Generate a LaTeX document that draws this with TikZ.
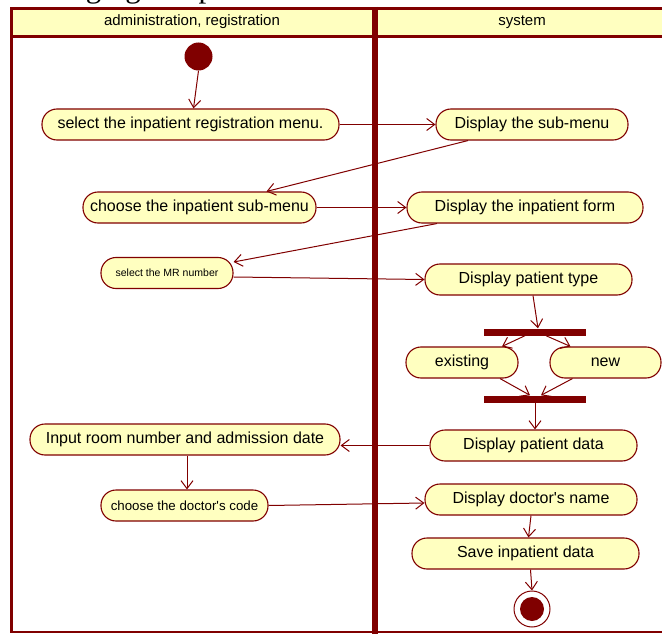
\documentclass[tikz,border=0pt]{standalone}
\usepackage{fontspec}
\setmainfont{Liberation Sans}[Ligatures=TeXOff]
\newfontfamily\titlefont{Liberation Serif}
\usetikzlibrary{arrows.meta}
\definecolor{umlred}{HTML}{800000}
\definecolor{umlfill}{HTML}{FFFFC0}
\begin{document}
\begin{tikzpicture}[x=1pt,y=-1pt,
        act/.style={draw=umlred,fill=umlfill,line width=1.1pt,rounded corners=15pt,minimum height=31pt,inner sep=0pt,font=\fontsize{16}{18}\selectfont},
        flow/.style={draw=umlred,line width=1pt,-{Straight Barb[length=8pt,width=12pt]}},
        bar/.style={fill=umlred,minimum width=102pt,minimum height=7pt,inner sep=0pt},
        lane/.style={draw=umlred,line width=3pt}]
        \useasboundingbox (0,0) rectangle (662,634);
        \node[anchor=base west,inner sep=0pt,font=\titlefont\fontsize{31}{31}\selectfont] (title) at (15,-2){Managing Hospitalization};
        % swimlanes
        \fill[umlfill] (10,8.5) rectangle (665,36.5);
        \draw[lane] (665,8.5) -- (11.5,8.5) -- (11.5,632);
        \draw[lane] (10,36.5) -- (665,36.5);
        \draw[umlred,line width=5.5pt] (375,7) -- (375,634);
        \draw[umlred,line width=1.5pt] (10,632) -- (665,632);
        \node[font=\fontsize{15}{17}\selectfont] (admin) at (192,22){administration, registration};
        \node[font=\fontsize{15}{17}\selectfont] (system) at (522,22){system};
        % activities
        \node[circle,fill=umlred,minimum size=28pt,inner sep=0pt] (start) at (198.5,56.5){};
        \node[act,minimum width=297pt] (sel) at (190.5,124.5){select the inpatient registration menu.};
        \node[act,minimum width=192pt] (dsub) at (532,124.5){Display the sub-menu};
        \node[act,minimum width=233pt] (choose) at (199.5,207.5){choose the inpatient sub-menu};
        \node[act,minimum width=236pt] (dform) at (525,207.5){Display the inpatient form};
        \node[act,minimum width=132pt,font=\fontsize{10.5}{12}\selectfont] (mr) at (167,273){select the MR number};
        \node[act,minimum width=207pt] (dtype) at (528.5,279.5){Display patient type};
        \node[bar] (fork) at (535,332){};
        \node[act,minimum width=112pt] (exist) at (462,362.5){existing};
        \node[act,minimum width=111pt] (new) at (605.5,362.5){new};
        \node[bar] (join) at (535,399){};
        \node[act,minimum width=207pt] (dpd) at (533.5,445.5){Display patient data};
        \node[act,minimum width=310pt] (room) at (185,439.5){Input room number and admission date};
        \node[act,minimum width=167pt,font=\fontsize{13.3}{15}\selectfont] (doc) at (184.5,505.5){choose the doctor's code};
        \node[act,minimum width=212pt] (dname) at (531,499.5){Display doctor's name};
        \node[act,minimum width=227pt] (save) at (525.5,553.5){Save inpatient data};
        \node[circle,draw=umlred,fill=white,line width=1pt,minimum size=36pt,inner sep=0pt] (end) at (532,609){};
        \node[circle,fill=umlred,minimum size=24pt,inner sep=0pt] (endin) at (end){};
        % transitions
        \draw[flow] (start.south) to ([xshift=3pt]sel.north);
        \draw[flow] (sel.east) to (dsub.west);
        \draw[flow] ([xshift=-64pt]dsub.south) to ([xshift=67pt]choose.north);
        \draw[flow] (choose.east) to (dform.west);
        \draw[flow] ([xshift=-88pt]dform.south) to ([yshift=11pt]mr.east);
        \draw[flow] ([yshift=-4pt]mr.east) to (dtype.west);
        \draw[flow] ([xshift=4.5pt]dtype.south) to ([xshift=3pt]fork.north);
        \draw[flow] ([xshift=-10pt]fork.south) to ([xshift=40pt]exist.north);
        \draw[flow] ([xshift=11pt]fork.south) to ([xshift=-35pt]new.north);
        \draw[flow] ([xshift=38pt]exist.south) to ([xshift=-5pt]join.north);
        \draw[flow] ([xshift=-33pt]new.south) to ([xshift=6pt]join.north);
        \draw[flow] (join.south) to ([xshift=1.5pt]dpd.north);
        \draw[flow] (dpd.west) to (room.east |- dpd.west);
        \draw[flow] ([xshift=2pt]room.south) to ([xshift=2.5pt]doc.north);
        \draw[flow] (doc.east) to ([yshift=-3.5pt]dname.west);
        \draw[flow] (dname.south) to ([xshift=3pt]save.north);
        \draw[flow] ([xshift=5pt]save.south) to (end.north);
\end{tikzpicture}
\end{document}
